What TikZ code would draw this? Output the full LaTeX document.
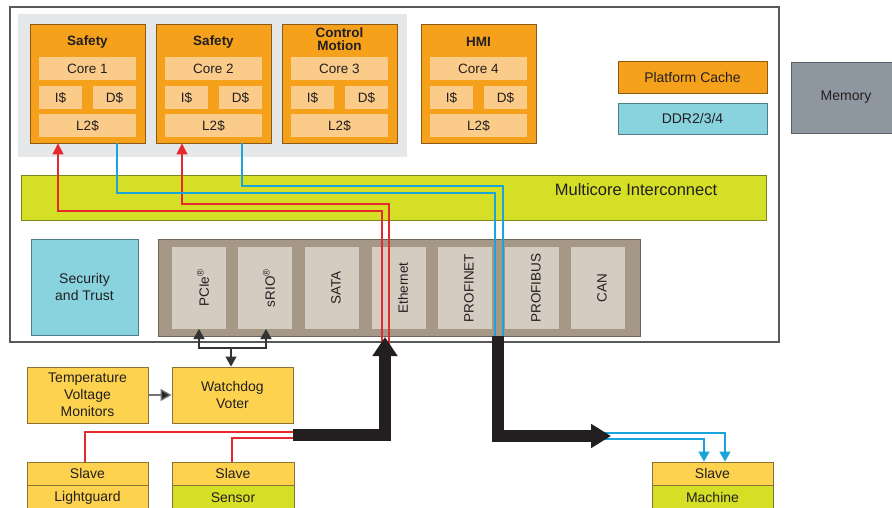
\documentclass[tikz,border=0pt]{standalone}
\usepackage{fontspec}
\setmainfont{Liberation Sans}
\usetikzlibrary{arrows.meta}
\definecolor{txt}{HTML}{231F20}
\definecolor{coreO}{HTML}{F5A11C}
\definecolor{coreB}{HTML}{8C5A14}
\definecolor{coreP}{HTML}{FBCB8A}
\definecolor{greyBg}{HTML}{E6E7E8}
\definecolor{lime}{HTML}{D5DF26}
\definecolor{limeB}{HTML}{7E8420}
\definecolor{cyanBox}{HTML}{89D3DF}
\definecolor{cyanB}{HTML}{4E7F88}
\definecolor{memG}{HTML}{8E979F}
\definecolor{memB}{HTML}{5A6066}
\definecolor{brownC}{HTML}{A69886}
\definecolor{brownB}{HTML}{6E6459}
\definecolor{periph}{HTML}{D5CCC1}
\definecolor{yel}{HTML}{FDD24E}
\definecolor{yelB}{HTML}{8A7330}
\definecolor{redL}{HTML}{E52A2F}
\definecolor{blueL}{HTML}{1BA3DC}
\definecolor{outerB}{HTML}{595959}
\tikzset{
  box/.style={draw, inner sep=0pt, line width=0.9pt, text=txt, align=center, font=\fontsize{14}{17}\selectfont},
  corebox/.style={box, fill=coreO, draw=coreB},
  cell/.style={fill=coreP, inner sep=0pt, text=txt, font=\fontsize{13.5}{14}\selectfont},
  coretitle/.style={text=txt, align=center, font=\bfseries\fontsize{13.5}{13.5}\selectfont},
  limebox/.style={box, fill=lime, draw=limeB},
  cyanbox/.style={box, fill=cyanBox, draw=cyanB},
  membox/.style={box, fill=memG, draw=memB},
  brownbox/.style={box, fill=brownC, draw=brownB},
  perbox/.style={fill=periph, inner sep=0pt},
  plabel/.style={rotate=90, text=txt, font=\fontsize{13.5}{14}\selectfont},
  yelbox/.style={box, fill=yel, draw=yelB},
  greenbox/.style={box, fill=lime, draw=yelB},
  orbox/.style={box, fill=coreO, draw=coreB},
  outerbox/.style={draw=outerB, line width=1.2pt, inner sep=0pt},
  redln/.style={draw=redL, line width=1.3pt},
  blueln/.style={draw=blueL, line width=1.3pt},
  redarr/.style={redln, -{Triangle[width=11pt,length=11pt]}},
  bluearr/.style={blueln, -{Triangle[width=11pt,length=10pt]}},
  ctl/.style={draw=black!80, line width=1.2pt, -{Triangle[width=11pt,length=10pt]}},
  bigarrow/.style={draw=txt, line width=12pt, line join=miter, line cap=butt},
}
\newcommand\bx[7]{%
  \pgfmathsetmacro\bxw{(#5)-(#3)}%
  \pgfmathsetmacro\bxh{(#6)-(#4)}%
  \pgfmathsetmacro\bxcx{((#3)+(#5))/2}%
  \pgfmathsetmacro\bxcy{((#4)+(#6))/2}%
  \node[#1, inner sep=0pt, minimum width=\bxw pt, minimum height=\bxh pt] (#2) at (\bxcx,\bxcy) {#7};}
\newcommand\corecol[3]{%
  \bx{corebox}{#1}{#2}{24}{#2+115}{143}{}
  \bx{cell}{#1c}{#2+9}{57}{#2+106}{80}{Core #3}
  \bx{cell}{#1i}{#2+9}{86}{#2+52}{109}{I\$}
  \bx{cell}{#1d}{#2+63}{86}{#2+106}{109}{D\$}
  \bx{cell}{#1l}{#2+9}{114}{#2+106}{137}{L2\$}
}
\begin{document}
\begin{tikzpicture}[x=1pt,y=-1pt]
\useasboundingbox (0,0) rectangle (892,508);
\fill[white] (0,0) rectangle (892,508);
% outer SoC
\bx{outerbox}{soc}{10}{7}{779}{342}{}
\fill[greyBg] (18,14) rectangle (407,157);
% cores
\corecol{ca}{30}{1}
\corecol{cb}{156}{2}
\corecol{cc}{282}{3}
\corecol{cd}{421}{4}
\node[coretitle] at (87.5,42) {Safety};
\node[coretitle] at (213.5,42) {Safety};
\node[coretitle] at (339.5,39) {Control\\Motion};
\node[coretitle] at (478.5,42) {HMI};
% right column
\bx{orbox}{pc}{618}{61}{767}{93}{Platform Cache}
\bx{cyanbox}{ddr}{618}{103}{767}{134}{DDR2/3/4}
\bx{membox}{mem}{791}{62}{901}{133}{Memory}
% interconnect
\bx{limebox}{ic}{21}{175}{766}{220}{}
\node[text=txt, font=\fontsize{16.5}{17}\selectfont] at (636,190) {Multicore Interconnect};
% security
\bx{cyanbox}{sec}{31}{239}{138}{335}{Security\\and Trust}
% peripherals
\bx{brownbox}{per}{158}{239}{640}{336}{}
\bx{perbox}{pcie}{172}{247}{226}{329}{}
\bx{perbox}{srio}{238}{247}{292}{329}{}
\bx{perbox}{sata}{305}{247}{359}{329}{}
\bx{perbox}{eth}{372}{247}{426}{329}{}
\bx{perbox}{pnet}{438}{247}{492}{329}{}
\bx{perbox}{pbus}{505}{247}{559}{329}{}
\bx{perbox}{can}{571}{247}{625}{329}{}
\node[plabel] at ([xshift=4pt]pcie.center) {PCIe\textsuperscript{\textregistered}};
\node[plabel] at ([xshift=4pt]srio.center) {sRIO\textsuperscript{\textregistered}};
\node[plabel] at ([xshift=4pt]sata.center) {SATA};
\node[plabel] at ([xshift=4pt]eth.center) {Ethernet};
\node[plabel] at ([xshift=4pt]pnet.center) {PROFINET};
\node[plabel] at ([xshift=4pt]pbus.center) {PROFIBUS};
\node[plabel] at ([xshift=4pt]can.center) {CAN};
% lower boxes
\bx{yelbox}{tv}{27}{367}{148}{423}{Temperature\\Voltage\\Monitors}
\bx{yelbox}{wd}{172}{367}{293}{423}{Watchdog\\Voter}
\bx{yelbox}{s1}{27}{462}{148}{485}{Slave}
\bx{yelbox}{lg}{27}{485}{148}{510}{Lightguard}
\bx{yelbox}{s2}{172}{462}{294}{485}{Slave}
\bx{greenbox}{sn}{172}{485}{294}{510}{Sensor}
\bx{yelbox}{s3}{652}{462}{773}{485}{Slave}
\bx{greenbox}{mc}{652}{485}{773}{510}{Machine}
% red safety paths
\coordinate (ra) at (382,350);
\coordinate (rb) at (58,211);
\draw[redarr] (ra) |- (rb) -- (rb |- ca.south);
\coordinate (rc) at (389,350);
\coordinate (rd) at (182,204);
\draw[redarr] (rc) |- (rd) -- (rd |- cb.south);
% blue paths
\coordinate (ba) at (117,193);
\draw[blueln] (ba |- ca.south) -- (ba) -| (495,345);
\coordinate (bb) at (242,186);
\draw[blueln] (bb |- cb.south) -- (bb) -| (503,345);
% bottom red
\coordinate (rl) at (85,432);
\draw[redln] (300,432) -- (rl) -- (rl |- s1.north);
\coordinate (rs) at (232,438);
\draw[redln] (300,438) -- (rs) -- (rs |- s2.north);
% blue to machine
\coordinate (m1) at (725,433);
\coordinate (m2) at (704,439);
\draw[bluearr] (600,433) -- (m1) -- (m1 |- s3.north);
\draw[bluearr] (600,439) -- (m2) -- (m2 |- s3.north);
% big arrows
\coordinate (k1) at (293,435);
\coordinate (k2) at (385,337);
\draw[bigarrow, -{Triangle[width=24pt,length=19pt]}] (k1) -| (k2);
\coordinate (k3) at (498,336);
\coordinate (k4) at (611,436);
\draw[bigarrow, -{Triangle[width=23pt,length=20pt]}] (k3) |- (k4);
% watchdog links
\coordinate (wj) at (231,348);
\draw[ctl] (wj) -- (wj |- wd.north);
\draw[ctl] (wj) -| (199,329);
\draw[ctl] (wj) -| (266,329);
\draw[draw=black!55, line width=1.3pt, -{Triangle[width=12pt,length=11pt,fill=black!85]}] (tv.east) -- (wd.west);
\end{tikzpicture}
\end{document}
